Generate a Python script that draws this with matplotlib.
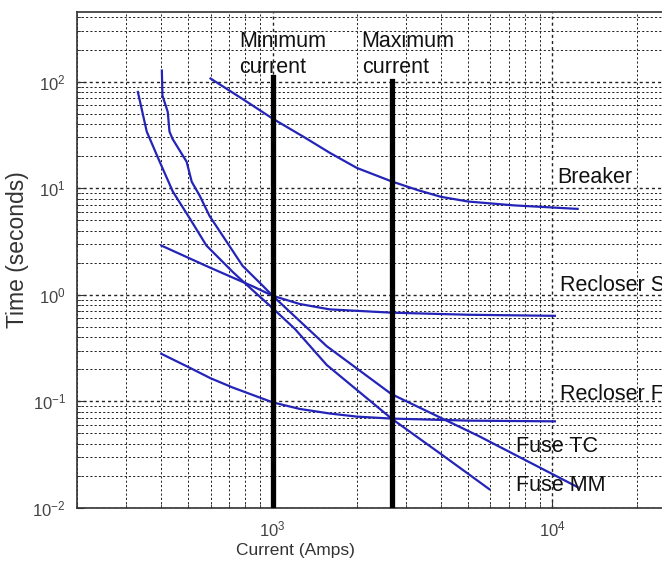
import matplotlib
matplotlib.use("Agg")
import matplotlib.pyplot as plt
from matplotlib.ticker import LogLocator, NullFormatter

plt.rcParams['font.family'] = ['Liberation Sans', 'DejaVu Sans']
plt.rcParams['mathtext.default'] = 'regular'

# ---- data ----
breaker_I = [600, 800, 1000, 1300, 1600, 2000, 2660, 3300, 4000, 5000, 7300, 12300]
breaker_t = [107, 66, 45, 30, 21.5, 15.5, 11.6, 9.6, 8.3, 7.5, 6.9, 6.4]

recS_I = [400, 600, 850, 1000, 1250, 1600, 2660, 5000, 10200]
recS_t = [2.9, 1.79, 1.2, 0.98, 0.82, 0.73, 0.68, 0.65, 0.635]

recF_I = [400, 500, 600, 720, 1000, 1250, 1600, 2000, 2660, 5000, 10200]
recF_t = [0.28, 0.21, 0.165, 0.135, 0.098, 0.085, 0.077, 0.072, 0.069, 0.066, 0.065]

fuseA_I = [330, 355, 395, 440, 506, 580, 720, 850, 1000, 1200, 1560, 2660, 4000, 5950]
fuseA_t = [80, 34, 17.7, 9.3, 5.2, 2.9, 1.64, 1.1, 0.75, 0.48, 0.22, 0.069, 0.032, 0.015]

fuseB_I = [402, 404, 422, 428, 439, 493, 514, 549, 595, 685, 781, 921, 1000, 1560, 2660, 5480, 12300]
fuseB_t = [127, 74, 52, 34, 29, 17.7, 11.5, 8.5, 5.5, 3.15, 1.87, 1.22, 0.98, 0.33, 0.117, 0.047, 0.0157]

min_current = 1000
max_current = 2660
min_line_top = 111
max_line_top = 102

labels = ["Breaker", "Recloser S", "Recloser F", "Fuse TC", "Fuse MM"]
label_I = [10420, 10600, 10600, 7430, 7430]
label_t = [12.6, 1.21, 0.117, 0.038, 0.0161]

xlim = (200, 30000)
ylim = (0.01, 450)

# ---- figure ----
fig = plt.figure(figsize=(6.62, 5.73), dpi=100)
W, H = 662, 573
ax = fig.add_axes([77 / W, (H - 508) / H, 609 / W, 496 / H])
ax.set_xscale('log')
ax.set_yscale('log')
ax.set_xlim(*xlim)
ax.set_ylim(*ylim)

grid_kw = dict(color='#222222', linestyle=(0, (2.2, 2.2)))
ax.grid(True, which='major', linewidth=1.0, **grid_kw)
ax.grid(True, which='minor', linewidth=0.7, **grid_kw)
ax.set_axisbelow(True)

blue = '#2424b8'
for I, t in [(breaker_I, breaker_t), (recS_I, recS_t), (recF_I, recF_t),
             (fuseA_I, fuseA_t), (fuseB_I, fuseB_t)]:
    ax.plot(I, t, color=blue, linewidth=1.6, zorder=3)

ax.plot([min_current, min_current], [ylim[0], min_line_top], color='black', linewidth=3.8, zorder=4)
ax.plot([max_current, max_current], [ylim[0], max_line_top], color='black', linewidth=3.8, zorder=4)

txt_kw = dict(fontsize=15.5, color='#111111', va='center', ha='left', zorder=5)
ax.text(762, 180, "Minimum\ncurrent", linespacing=1.3, **txt_kw)
ax.text(2080, 180, "Maximum\ncurrent", linespacing=1.3, **txt_kw)
for s, xi, yi in zip(labels, label_I, label_t):
    ax.text(xi, yi, s, **txt_kw)

ax.xaxis.set_major_locator(LogLocator(base=10, numticks=10))
ax.yaxis.set_major_locator(LogLocator(base=10, numticks=10))
ax.xaxis.set_minor_locator(LogLocator(base=10, subs=range(2, 10), numticks=20))
ax.yaxis.set_minor_locator(LogLocator(base=10, subs=range(2, 10), numticks=20))
ax.xaxis.set_minor_formatter(NullFormatter())
ax.yaxis.set_minor_formatter(NullFormatter())
ax.tick_params(which='both', direction='in', top=False, right=False, colors='#333333',
               labelsize=12, labelcolor='#444444')
ax.tick_params(which='major', length=5, pad=8)
ax.tick_params(which='minor', length=3)
for sp in ax.spines.values():
    sp.set_color('#333333')
    sp.set_linewidth(1.2)

fig.text(295 / W, 1 - 550 / H, "Current (Amps)", fontsize=12.5, color='#333333',
         ha='center', va='center')
fig.text(18 / W, 1 - 250 / H, "Time (seconds)", fontsize=16.5, color='#333333',
         ha='center', va='center', rotation=90)

fig.savefig("out.png", dpi=100)
